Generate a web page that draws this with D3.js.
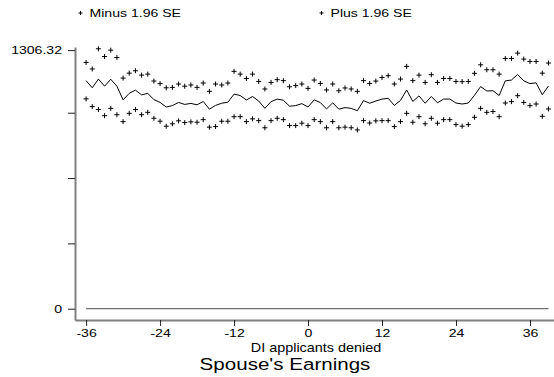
<!DOCTYPE html>
<html>
<head>
<meta charset="utf-8">
<script src="https://cdn.jsdelivr.net/npm/d3@7"></script>
<style>
  body { margin: 0; background: #fff; }
  text { font-family: "Liberation Sans", Arial, sans-serif; fill: #000; }
</style>
</head>
<body>
<script>
// months relative to decision
var months = [-36,-35,-34,-33,-32,-31,-30,-29,-28,-27,-26,-25,-24,-23,-22,-21,-20,-19,-18,-17,
  -16,-15,-14,-13,-12,-11,-10,-9,-8,-7,-6,-5,-4,-3,-2,-1,0,1,2,3,4,5,6,7,8,9,10,11,12,13,
  14,15,16,17,18,19,20,21,22,23,24,25,26,27,28,29,30,31,32,33,34,35,36,37,38,39];

var meanEarn = [1152,1116,1160,1124,1159,1124,1055,1088,1104,1080,1088,1056,1042,1019,1026,1042,1032,1037,1030,1047,
  1008,1027,1038,1043,1084,1077,1054,1072,1049,1012,1046,1059,1053,1023,1026,1036,1019,1055,1041,1009,1040,1008,1016,1012,1000,1051,1038,1049,1059,1063,
  1027,1052,1105,1047,1075,1038,1072,1040,1059,1059,1039,1034,1039,1078,1122,1100,1101,1077,1151,1155,1183,1151,1137,1141,1081,1125];

var plusSE = [1244,1211,1313,1274,1306,1269,1165,1190,1202,1180,1185,1150,1137,1116,1118,1135,1124,1130,1118,1140,
  1098,1135,1130,1140,1199,1185,1163,1185,1148,1110,1143,1157,1152,1121,1127,1135,1113,1155,1138,1105,1135,1101,1115,1110,1098,1152,1138,1150,1168,1177,
  1135,1160,1224,1152,1180,1143,1182,1143,1163,1163,1148,1147,1148,1189,1232,1207,1207,1185,1264,1264,1291,1261,1249,1249,1190,1241];

var minusSE = [1060,1021,1006,975,1012,980,945,987,1006,980,992,962,947,922,934,949,940,944,942,955,
  917,920,947,947,970,970,945,959,950,914,950,962,955,925,925,937,925,955,945,914,945,914,917,914,903,950,938,949,950,950,
  920,945,987,942,970,934,962,937,955,955,930,922,930,967,1012,992,996,970,1039,1046,1076,1042,1026,1034,972,1009];

var xTicks = [-36,-24,-12,0,12,24,36];
var yTicks = [0,330,660,990,1306.32];
var yTickLabels = ["0","","","","1306.32"];
var legendLabels = ["Minus 1.96 SE","Plus 1.96 SE"];

var width = 554, height = 377;
var svg = d3.select("body").append("svg")
  .attr("width", width).attr("height", height);

var x = d3.scaleLinear().domain([-37.8, 39.9]).range([75, 554]);
var y = d3.scaleLinear().domain([-57, 1322]).range([320, 47]);

var plusPath = "M-2.5,0H2.5M0,-2.5V2.5";

// stretched text helper (reference font is wider than Arial)
function stext(g, str, px, py, size, sx, anchor) {
  return g.append("text")
    .attr("transform", "translate(" + px + "," + py + ") scale(" + sx + ",1)")
    .attr("text-anchor", anchor || "start")
    .style("font-size", size + "px")
    .text(str);
}

// zero line
svg.append("line")
  .attr("x1", x(months[0])).attr("x2", x(months[months.length - 1]))
  .attr("y1", y(0)).attr("y2", y(0))
  .attr("stroke", "#6e6e6e").attr("stroke-width", 1.3);

// axes
var xAxis = svg.append("g")
  .attr("transform", "translate(0," + y.range()[0] + ")")
  .call(d3.axisBottom(x).tickValues(xTicks).tickSize(6).tickSizeOuter(0)
    .tickFormat(function(d) { return String(d); }));
var yAxis = svg.append("g")
  .attr("transform", "translate(" + x.range()[0] + ",0)")
  .call(d3.axisLeft(y).tickValues(yTicks).tickSize(7).tickSizeOuter(0)
    .tickFormat(function(d, i) { return yTickLabels[i]; }));

[xAxis, yAxis].forEach(function(a) {
  a.select(".domain").attr("stroke", "#808080").attr("stroke-width", 2);
  a.selectAll(".tick line").attr("stroke", "#222").attr("stroke-width", 1);
  a.selectAll(".tick text").style("font-size", "11px").attr("fill", "#000")
    .style("font-family", "'Liberation Sans', Arial, sans-serif");
});
xAxis.selectAll(".tick text")
  .attr("y", 0).attr("dy", null)
  .attr("transform", "translate(0,17) scale(1.28,1)");
yAxis.selectAll(".tick text")
  .attr("x", null)
  .attr("transform", "translate(-13,0) scale(1.28,1)");

// series
var line = d3.line().x(function(d, i) { return x(months[i]); }).y(function(d) { return y(d); });
svg.append("path").datum(meanEarn)
  .attr("d", line).attr("fill", "none").attr("stroke", "#000").attr("stroke-width", 1);

[minusSE, plusSE].forEach(function(s) {
  svg.append("g").selectAll("path").data(s).enter().append("path")
    .attr("d", plusPath)
    .attr("transform", function(d, i) { return "translate(" + x(months[i]) + "," + y(d) + ")"; })
    .attr("stroke", "#000").attr("stroke-width", 1).attr("fill", "none");
});

// axis title and caption
stext(svg, "DI applicants denied", 316, 352, 12, 1.2, "middle");
stext(svg, "Spouse's Earnings", 285, 369.5, 17, 1.21, "middle");

// legend
var legX = [80.5, 321.5];
legendLabels.forEach(function(l, i) {
  svg.append("path").attr("d", "M-2,0H2M0,-2V2")
    .attr("transform", "translate(" + legX[i] + ",13)")
    .attr("stroke", "#000").attr("stroke-width", 1).attr("fill", "none");
  stext(svg, l, legX[i] + 9, 17, 11, 1.28, "start");
});
</script>
</body>
</html>
